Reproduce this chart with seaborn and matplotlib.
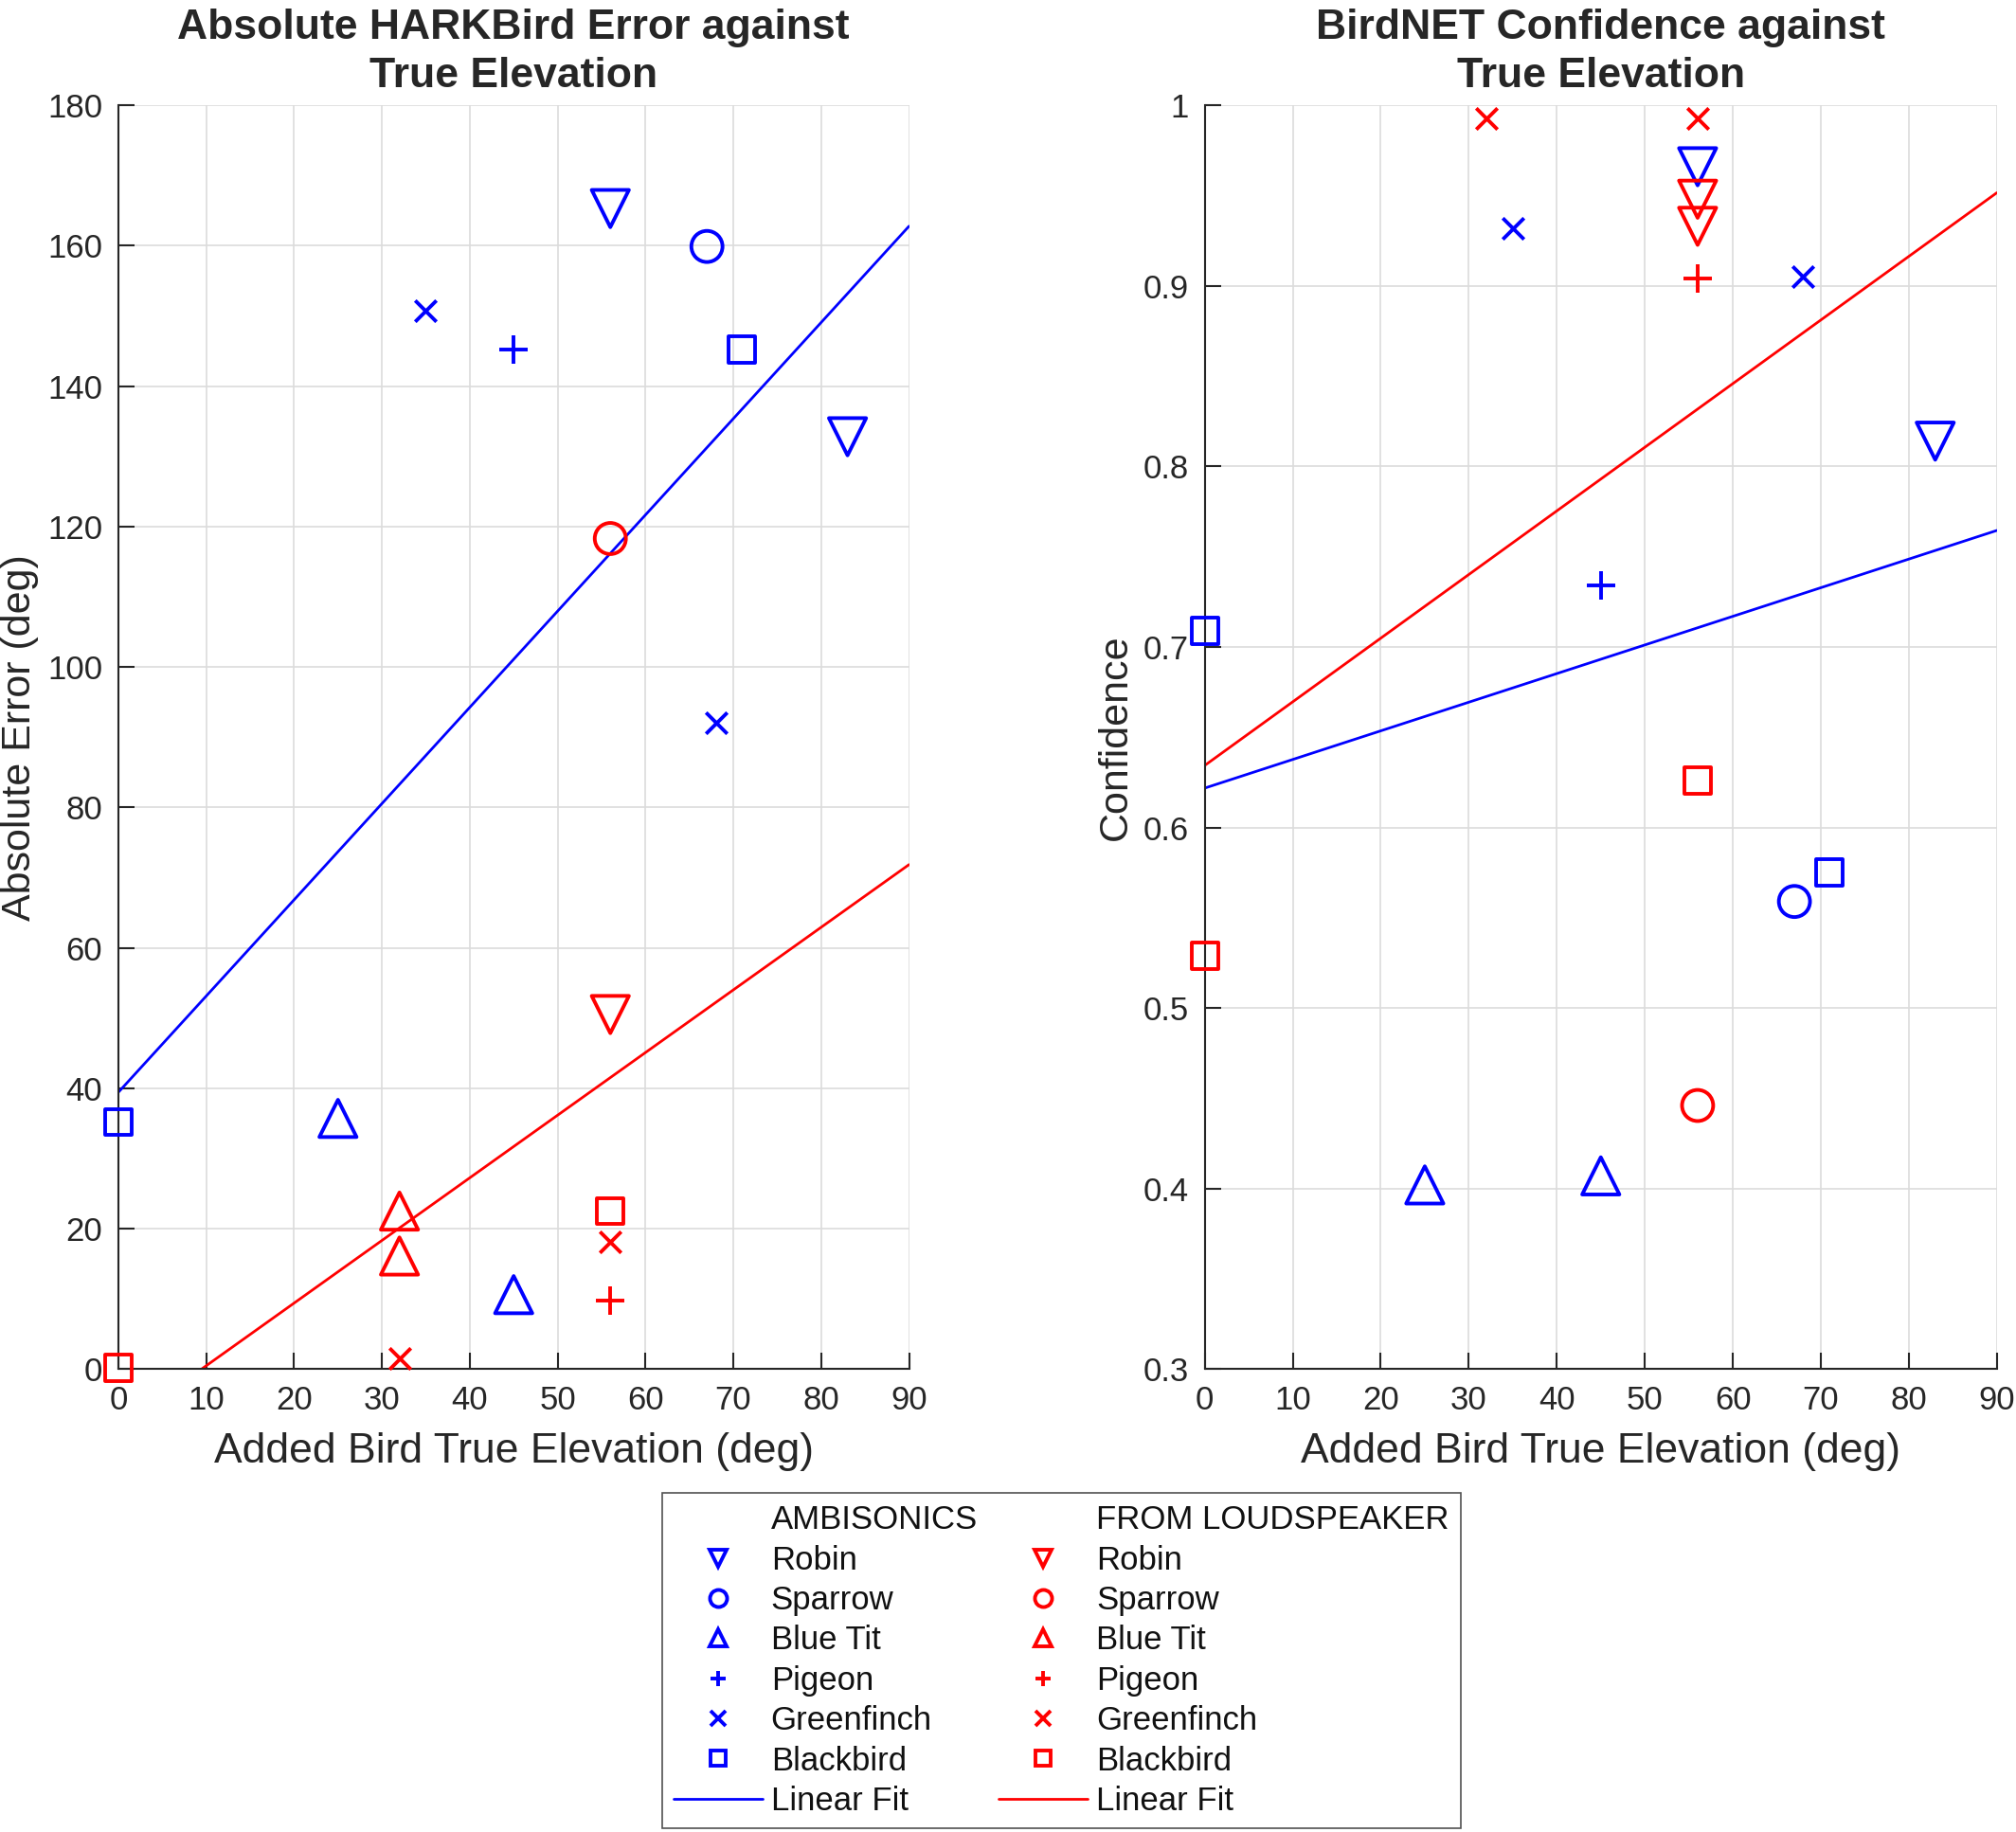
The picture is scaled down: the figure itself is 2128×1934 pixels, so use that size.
import numpy as np
import pandas as pd
import seaborn as sns
import matplotlib
matplotlib.use("Agg")
import matplotlib.pyplot as plt
from matplotlib.lines import Line2D

# ambisonics (blue) trials
amb_species = ["Robin", "Robin", "Sparrow", "Blue Tit", "Blue Tit", "Pigeon",
               "Greenfinch", "Greenfinch", "Blackbird", "Blackbird"]
amb_elev = [56, 83, 67, 25, 45, 45, 35, 68, 0, 71]
amb_error = [165.3, 132.8, 159.9, 35.7, 10.6, 145.2, 150.7, 92.1, 35.2, 145.2]
amb_conf = [0.966, 0.814, 0.559, 0.402, 0.407, 0.734, 0.932, 0.905, 0.709, 0.575]

# from loudspeaker (red) trials, nan = no result
spk_species = ["Robin", "Robin", "Sparrow", "Blue Tit", "Blue Tit", "Pigeon",
               "Greenfinch", "Greenfinch", "Blackbird", "Blackbird"]
spk_elev = [56, 56, 56, 32, 32, 56, 32, 56, 0, 56]
spk_error = [50.5, np.nan, 118.3, 22.5, 16.1, 9.7, 1.5, 18.1, 0.2, 22.5]
spk_conf = [0.948, 0.933, 0.446, np.nan, np.nan, 0.904, 0.993, 0.993, 0.529, 0.626]

species_order = ["Robin", "Sparrow", "Blue Tit", "Pigeon", "Greenfinch", "Blackbird"]
markers = {"Robin": "v", "Sparrow": "o", "Blue Tit": "^", "Pigeon": "+",
           "Greenfinch": "x", "Blackbird": "s"}
sizes = {"Robin": 800, "Sparrow": 560, "Blue Tit": 800, "Pigeon": 480,
         "Greenfinch": 260, "Blackbird": 400}

amb = pd.DataFrame({"species": amb_species, "elev": amb_elev,
                    "error": amb_error, "conf": amb_conf})
spk = pd.DataFrame({"species": spk_species, "elev": spk_elev,
                    "error": spk_error, "conf": spk_conf})
groups = [(amb, "blue"), (spk, "red")]

sns.set_style("ticks")
plt.rcParams["font.family"] = ["Liberation Sans", "DejaVu Sans"]

fig = plt.figure(figsize=(21.28, 19.34), dpi=100)
ax1 = fig.add_axes([0.0587, 0.2527, 0.3922, 0.6898])
ax2 = fig.add_axes([0.5976, 0.2527, 0.3929, 0.6898])


def draw_panel(ax, col, ylim, yticks, yticklabels, ylabel, title, label_x):
    ax.set_xlim(0, 90)
    ax.set_ylim(*ylim)
    for df, color in groups:
        for sp in species_order:
            sub = df[df["species"] == sp].dropna(subset=[col])
            if sub.empty:
                continue
            m = markers[sp]
            if m in ("+", "x"):
                sns.scatterplot(data=sub, x="elev", y=col, ax=ax, marker=m,
                                s=sizes[sp], color=color, linewidth=2.8,
                                clip_on=False, zorder=4)
            else:
                sns.scatterplot(data=sub, x="elev", y=col, ax=ax, marker=m,
                                s=sizes[sp], facecolors="none", edgecolor=color,
                                linewidth=2.8, clip_on=False, zorder=4)
        sns.regplot(data=df, x="elev", y=col, ax=ax, scatter=False, ci=None,
                    truncate=False, color=color, line_kws={"linewidth": 2})
    ax.set_xlim(0, 90)
    ax.set_ylim(*ylim)
    ax.set_xticks(range(0, 91, 10))
    ax.set_yticks(yticks)
    ax.set_yticklabels(yticklabels)
    ax.grid(True, color="#dcdcdc", linewidth=1.2)
    ax.set_axisbelow(True)
    sns.despine(ax=ax)
    for s in ("left", "bottom"):
        ax.spines[s].set_color("#262626")
        ax.spines[s].set_linewidth(1.5)
    ax.tick_params(direction="in", length=12, width=1.5, color="#262626",
                   labelsize=25, labelcolor="#262626", pad=12)
    ax.set_xlabel("Added Bird True Elevation (deg)", fontsize=32,
                  color="#262626", labelpad=12)
    ax.set_ylabel(ylabel, fontsize=31, color="#262626", va="center")
    ax.yaxis.set_label_coords(label_x, 0.5)
    ax.set_title(title, fontsize=32, fontweight="bold", pad=14, linespacing=1.3)


draw_panel(ax1, "error", (0, 180), range(0, 181, 20),
           [str(v) for v in range(0, 181, 20)], "Absolute Error (deg)",
           "Absolute HARKBird Error against\nTrue Elevation", -0.124)
conf_ticks = [0.3, 0.4, 0.5, 0.6, 0.7, 0.8, 0.9, 1.0]
draw_panel(ax2, "conf", (0.3, 1.0), conf_ticks,
           ["0.3", "0.4", "0.5", "0.6", "0.7", "0.8", "0.9", "1"],
           "Confidence", "BirdNET Confidence against\nTrue Elevation", -0.112)

handles, labels = [], []
for color, header in [("blue", "AMBISONICS"), ("red", "FROM LOUDSPEAKER")]:
    handles.append(Line2D([], [], linestyle="none"))
    labels.append(header)
    for sp in species_order:
        m = markers[sp]
        handles.append(Line2D([], [], linestyle="none", marker=m, color=color,
                              markerfacecolor="none", markersize=13 if m in "v^o" else 11,
                              markeredgewidth=2.8))
        labels.append(sp)
    handles.append(Line2D([], [], color=color, linewidth=2))
    labels.append("Linear Fit")

leg = fig.legend(handles, labels, ncol=2, loc="lower left",
                 bbox_to_anchor=(0.3285, 0.002),
                 fontsize=25, frameon=True, fancybox=False, handlelength=2.7,
                 handletextpad=0.25, labelspacing=0.27, columnspacing=0.65,
                 borderaxespad=0, borderpad=0.35)
leg.get_frame().set_edgecolor("#262626")
leg.get_frame().set_linewidth(1.2)
for t in leg.get_texts():
    t.set_color("#111111")

fig.savefig("out.png", dpi=100)
